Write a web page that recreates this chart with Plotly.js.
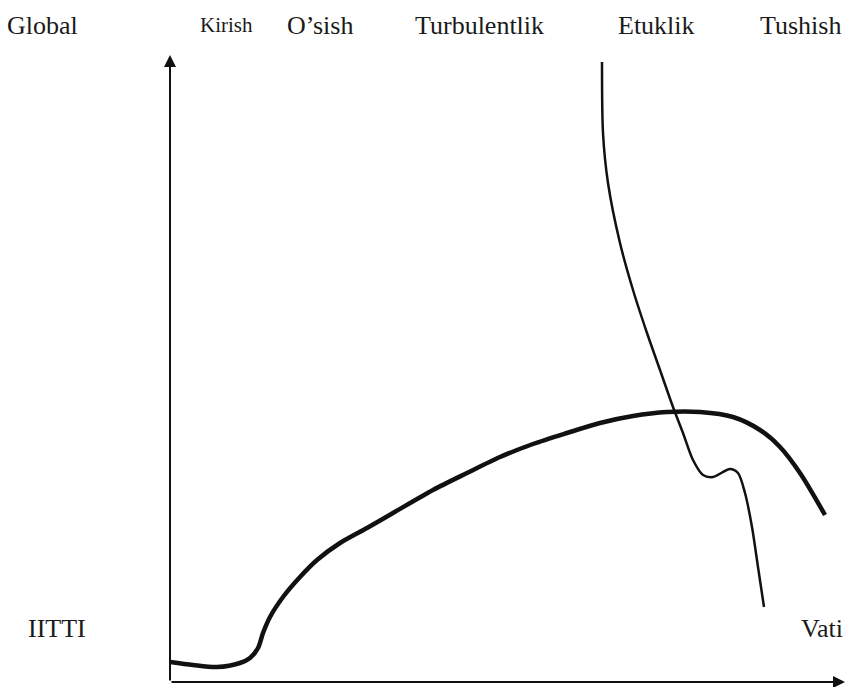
<!DOCTYPE html>
<html>
<head>
<meta charset="utf-8">
<script src="https://cdn.plot.ly/plotly-3.0.1.min.js"></script>
<style>html,body{margin:0;padding:0;background:#fff;}#chart{width:849px;height:687px;}</style>
</head>
<body>
<div id="chart"></div>
<script>
// Time axis (x) and value axis (y), units
const growthX = [0, 23, 47, 70, 80, 88, 93, 100, 113, 130, 147, 170, 197, 223, 263, 297, 330, 363, 397, 430, 463, 497, 530, 563, 590, 610, 630, 655];
const growthY = [20, 17, 15, 19, 24, 34, 49, 65, 85, 105, 122, 139, 154, 169, 192, 209, 225, 238, 249, 259, 266, 270, 270, 265, 252, 235, 209, 167];

const fallX = [432, 433, 438, 450, 463, 477, 490, 503, 513, 523, 533, 543, 560, 568, 575, 582, 588, 594];
const fallY = [620, 549, 499, 439, 392, 349, 312, 275, 249, 222, 207, 205, 213, 209, 189, 155, 115, 75];

const stageLabels = ["Kirish", "O\u2019sish", "Turbulentlik", "Etuklik", "Tushish"];
const stagePos = [0.083, 0.2222, 0.4578, 0.72, 0.9348];
const cornerLabels = ["Global", "IITTI", "Vati"];

const xMax = 675, yMax = 627;

const traces = [
  {x: growthX, y: growthY, mode: "lines", line: {color: "#111", width: 4.5, shape: "spline", smoothing: 0.8}, hoverinfo: "skip"},
  {x: fallX, y: fallY, mode: "lines", line: {color: "#111", width: 2.5, shape: "spline", smoothing: 0.8}, hoverinfo: "skip"}
];

const font = {family: "Liberation Serif, Times New Roman, serif", color: "#1a1a1a", size: 26};
const annotations = [];
// axis arrows
annotations.push({x: 0, y: yMax, ax: 0, ay: 0, axref: "x", ayref: "y", xref: "x", yref: "y", text: "", showarrow: true, arrowhead: 2, arrowsize: 1.2, arrowwidth: 2, arrowcolor: "#111"});
annotations.push({x: xMax, y: 0, ax: 0, ay: 0, axref: "x", ayref: "y", xref: "x", yref: "y", text: "", showarrow: true, arrowhead: 2, arrowsize: 1.2, arrowwidth: 2, arrowcolor: "#111"});
stageLabels.forEach((t, i) => {
  annotations.push({x: stagePos[i], y: 1.0478, xref: "paper", yref: "paper", xanchor: "center", yanchor: "middle", text: t, showarrow: false, font: Object.assign({}, font, {size: i === 0 ? 21 : 26})});
});
annotations.push({x: -0.1896, y: 1.0478, xref: "paper", yref: "paper", xanchor: "center", yanchor: "middle", text: cornerLabels[0], showarrow: false, font: font});
annotations.push({x: -0.1674, y: 0.0861, xref: "paper", yref: "paper", xanchor: "center", yanchor: "middle", text: cornerLabels[1], showarrow: false, font: font});
annotations.push({x: 1.0, y: 0.0861, xref: "paper", yref: "paper", xanchor: "right", yanchor: "middle", text: cornerLabels[2], showarrow: false, font: font});

const layout = {
  width: 849, height: 687,
  margin: {l: 170, r: 4, t: 55, b: 5},
  paper_bgcolor: "#fff", plot_bgcolor: "#fff",
  showlegend: false,
  xaxis: {range: [0, xMax], visible: false, fixedrange: true},
  yaxis: {range: [0, yMax], visible: false, fixedrange: true},
  annotations: annotations
};
Plotly.newPlot("chart", traces, layout, {staticPlot: true});
</script>
</body>
</html>
